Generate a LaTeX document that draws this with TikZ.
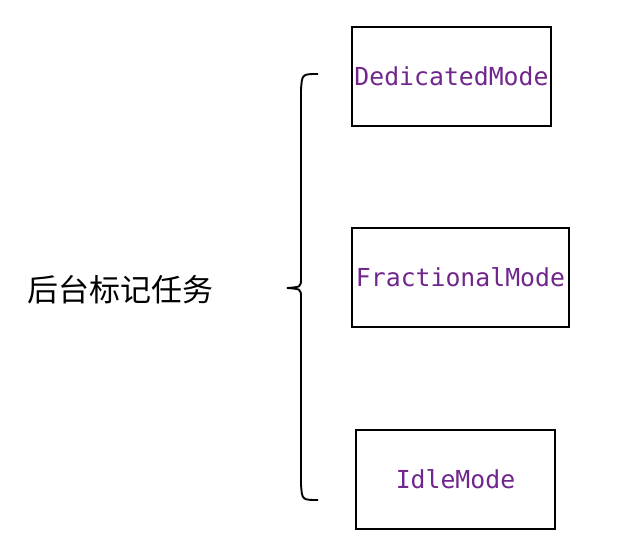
\documentclass[tikz,border=0pt]{standalone}
\usepackage{fontspec}
\newfontfamily\cjk{Noto Sans CJK SC}
\newfontfamily\monofont{DejaVu Sans Mono}
\usetikzlibrary{positioning}
\definecolor{modepurple}{RGB}{112,38,140}

\begin{document}
\begin{tikzpicture}[x=1pt,y=-1pt,
  modebox/.style={draw,line width=2pt,minimum height=99pt,inner sep=0pt,
    font=\monofont\fontsize{24.8}{28}\selectfont,text=modepurple}]
\useasboundingbox (0,0) rectangle (638,551);
% Left: task label
\node[font=\cjk\fontsize{31}{35}\selectfont] (task) at (120.5,290) {后台标记任务};
% Right: three modes
\node[modebox,minimum width=199pt] (dedicated) at (451.5,76.5) {DedicatedMode};
\node[modebox,minimum width=217pt] (fractional) at (460.5,277.5) {FractionalMode};
\node[modebox,minimum width=199pt] (idle) at (455.5,479.5) {IdleMode};
% Brace
\coordinate (bracetop) at (318,74);
\coordinate (bracetip) at (287,288);
\coordinate (bracebot) at (318,500);
\draw[line width=1.9pt] (bracetop) .. controls (302,74) .. (301,90) -- (301,278)
  .. controls (301,287) .. (bracetip) .. controls (301,289) .. (301,298)
  -- (301,484) .. controls (302,500) .. (bracebot);
\end{tikzpicture}
\end{document}
